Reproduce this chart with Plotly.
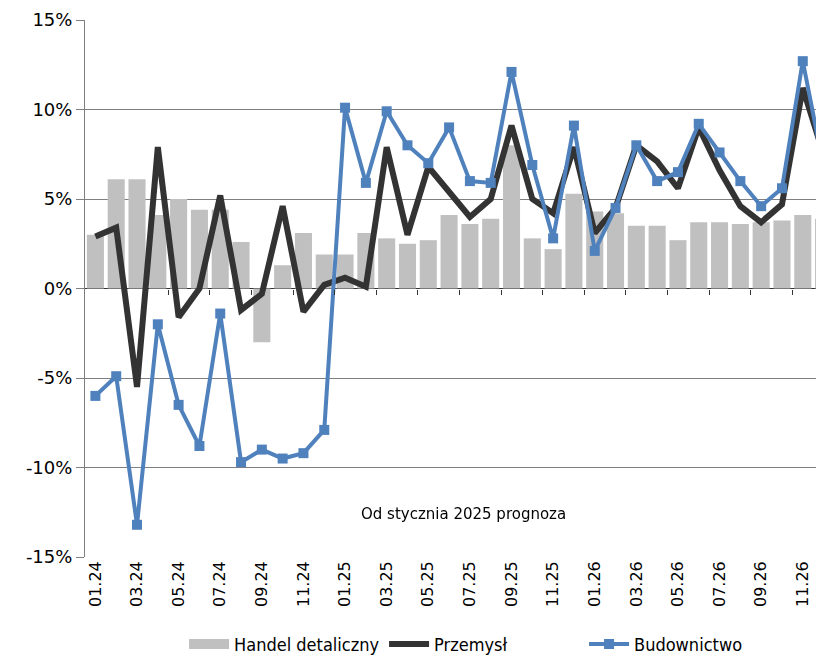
import plotly.graph_objects as go

# months 01.24 .. 12.26
months = [f"{m:02d}.{y}" for y in (24, 25, 26) for m in range(1, 13)]

handel = [3.0, 6.1, 6.1, 4.1, 5.0, 4.4, 4.4, 2.6, -3.0, 1.3, 3.1, 1.9,
          1.9, 3.1, 2.8, 2.5, 2.7, 4.1, 3.6, 3.9, 8.0, 2.8, 2.2, 5.3,
          4.3, 4.2, 3.5, 3.5, 2.7, 3.7, 3.7, 3.6, 3.7, 3.8, 4.1, 3.9]

przemysl = [2.9, 3.4, -5.5, 7.9, -1.6, 0.0, 5.2, -1.2, -0.3, 4.6, -1.3, 0.2,
            0.6, 0.1, 7.9, 3.0, 6.8, 5.4, 4.0, 5.0, 9.1, 5.0, 4.2, 7.9,
            3.1, 4.5, 8.0, 7.1, 5.6, 9.0, 6.6, 4.6, 3.7, 4.7, 11.2, 7.5]

budownictwo = [-6.0, -4.9, -13.2, -2.0, -6.5, -8.8, -1.4, -9.7, -9.0, -9.5, -9.2, -7.9,
               10.1, 5.9, 9.9, 8.0, 7.0, 9.0, 6.0, 5.9, 12.1, 6.9, 2.8, 9.1,
               2.1, 4.5, 8.0, 6.0, 6.5, 9.2, 7.6, 6.0, 4.6, 5.6, 12.7, 6.8]

y_ticks = [-15, -10, -5, 0, 5, 10, 15]

x = list(range(len(months)))
font = "DejaVu Sans, Verdana, sans-serif"

fig = go.Figure()

fig.add_trace(go.Bar(x=x, y=handel, name="Handel detaliczny", showlegend=False,
                     marker=dict(color="#c0c0c0", line=dict(width=0)),
                     width=0.82))

# wide grey swatch for the bar series in the legend
fig.add_trace(go.Scatter(x=[None], y=[None], name="Handel detaliczny", mode="lines",
                         line=dict(color="#c0c0c0", width=14)))

fig.add_trace(go.Scatter(x=x, y=przemysl, name="Przemysł", mode="lines",
                         line=dict(color="#333333", width=6)))

fig.add_trace(go.Scatter(x=x, y=budownictwo, name="Budownictwo", mode="lines+markers",
                         line=dict(color="#4f81bd", width=4),
                         marker=dict(symbol="square", size=10, color="#4f81bd")))

# invisible helper so the tick marks on the 0% line get drawn
fig.add_trace(go.Scatter(x=x, y=handel, xaxis="x2", mode="markers", opacity=0,
                         showlegend=False, hoverinfo="skip"))

fig.add_annotation(x=17.7, y=-12.6, text="Od stycznia 2025 prognoza",
                   showarrow=False, font=dict(size=15, color="#000000", family=font))

# page body has an 8px margin, so the figure is 816x655
fig.update_layout(
    width=816, height=655,
    margin=dict(l=77, r=0, t=12, b=106),
    plot_bgcolor="white", paper_bgcolor="white",
    font=dict(family=font, color="#000000"),
    showlegend=True,
    legend=dict(orientation="h", x=0.54, xanchor="center", y=-0.197, yanchor="bottom",
                font=dict(size=18, family="DejaVu Sans Condensed, Liberation Sans Narrow, sans-serif"),
                traceorder="normal", entrywidth=145, itemwidth=40),
    xaxis=dict(range=[-0.5, 35.02], tickvals=x[::2], ticktext=months[::2],
               tickangle=-90, tickfont=dict(size=16), showgrid=False, automargin=False,
               showline=False, ticks="", zeroline=False),
    xaxis2=dict(overlaying="x", matches="x", anchor="free", position=0.5,
                tickvals=[v + 1.5 for v in x[::2]][:-1], ticks="outside",
                ticklen=5, tickcolor="#333333", showticklabels=False,
                showgrid=False, showline=False, zeroline=False),
    yaxis=dict(range=[-15, 15], tickvals=y_ticks, ticktext=[f"{v}%" for v in y_ticks],
               tickfont=dict(size=18), automargin=False,
               showgrid=True, gridcolor="#7f7f7f", gridwidth=1,
               zeroline=True, zerolinecolor="#333333", zerolinewidth=1,
               showline=True, linecolor="#7f7f7f", linewidth=1,
               ticks="outside", ticklen=8, tickcolor="#7f7f7f"),
)

fig.write_html("out.html")
